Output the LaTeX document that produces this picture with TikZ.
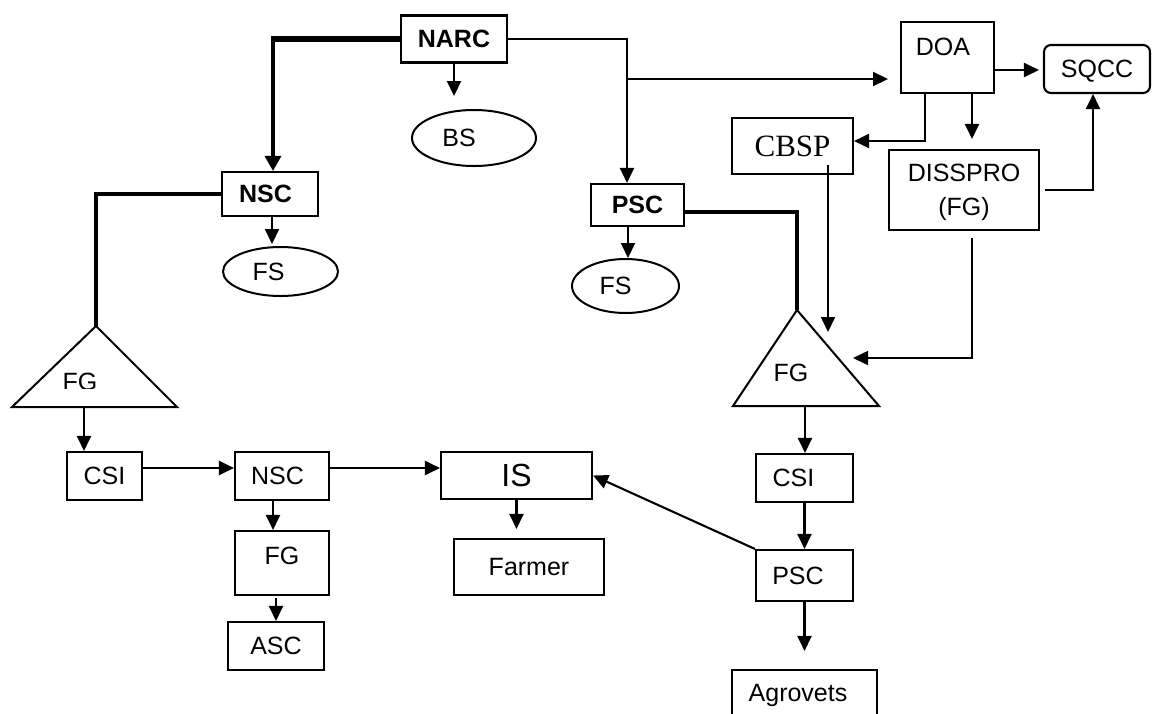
\documentclass[tikz,border=0pt]{standalone}
\usepackage{fontspec}
\setmainfont{Liberation Sans}
\newfontfamily\tnr{Liberation Serif}
\usetikzlibrary{arrows.meta,shapes.geometric}
\newcommand{\fsz}{\fontsize{25}{30}\selectfont}
\newcommand{\gap}[1]{\rule{#1}{0pt}}
\begin{document}
\begin{tikzpicture}[x=1pt,y=-1pt,
  box/.style={draw,line width=2.1pt,inner sep=0pt,font=\fsz,text depth=0pt},
  oval/.style={draw,ellipse,line width=2pt,inner sep=0pt,font=\fsz},
  lbl/.style={inner sep=0pt,font=\fsz,text depth=0pt},
  arr/.style={line width=2.1pt,-{Triangle[length=15pt,width=14pt]}},
  thinarr/.style={line width=1.6pt,-{Triangle[length=15pt,width=14pt]}},
  plain/.style={line width=2pt},
  heavy/.style={line width=4pt}]
\fill[white] (0,0) rectangle (1155,713);
\useasboundingbox (0,0) rectangle (1155,713);

% top nodes
\node[box,minimum width=106pt,minimum height=47pt,font=\fsz\bfseries] (narc) at (454,39) {NARC};
\node[oval,minimum width=124pt,minimum height=56pt] (bs) at (474,138) {BS\gap{30pt}};
\node[box,minimum width=96pt,minimum height=44pt,font=\fsz\bfseries] (nsct) at (270,194) {NSC\gap{9pt}};
\node[oval,minimum width=115pt,minimum height=49pt] (fsl) at (280.5,271.5) {FS\gap{24pt}};
\node[box,minimum width=93pt,minimum height=42pt,font=\fsz\bfseries] (psct) at (637.5,205) {PSC};
\node[oval,minimum width=107pt,minimum height=54pt] (fsr) at (625.5,286) {FS\gap{20pt}};

\node[box,minimum width=93pt,minimum height=71pt] (doa) at (947.5,57.5) {};
\node[lbl] (doatxt) at (943,47) {DOA};
\node[box,rounded corners=7pt,minimum width=106pt,minimum height=48pt] (sqcc) at (1097,69) {SQCC};
\node[box,minimum width=121pt,minimum height=56pt,font=\tnr\fontsize{31}{34}\selectfont] (cbsp) at (792.5,146) {CBSP};
\node[box,minimum width=150pt,minimum height=80pt,align=center,font=\fontsize{25}{34}\selectfont] (dis) at (964,190) {DISSPRO\\(FG)};

% triangles
\coordinate (ltop) at (96,326);
\coordinate (lbl1) at (12,407);
\coordinate (lbr) at (177,407);
\draw[plain,line join=miter] (ltop) -- (lbr) -- (lbl1) -- cycle;
\begin{scope}
\clip (0,0) rectangle (1155,388);
\node[lbl] (lfg) at (80,382) {FG};
\end{scope}
\coordinate (rtop) at (797,310);
\coordinate (rbl) at (733,406);
\coordinate (rbr) at (879,406);
\draw[plain,line join=miter] (rtop) -- (rbr) -- (rbl) -- cycle;
\node[lbl] (rfg) at (791,373) {FG};

% bottom nodes
\node[box,minimum width=75pt,minimum height=48pt] (csil) at (104.5,476) {CSI};
\node[box,minimum width=94pt,minimum height=48pt] (nscb) at (282,476) {NSC\gap{9pt}};
\node[box,minimum width=94pt,minimum height=64pt] (fgb) at (282,563) {};
\node[lbl] (fgbtxt) at (282,556) {FG};
\node[box,minimum width=96pt,minimum height=48pt] (asc) at (276,646) {ASC};
\node[box,minimum width=151pt,minimum height=47pt,font=\fontsize{32}{36}\selectfont] (is) at (516.5,475.5) {IS};
\node[box,minimum width=150pt,minimum height=56pt] (farmer) at (529,567) {Farmer};
\node[box,minimum width=97pt,minimum height=48pt] (csir) at (804.5,478) {CSI\gap{22pt}};
\node[box,minimum width=97pt,minimum height=51pt] (pscr) at (804.5,575.5) {PSC\gap{13pt}};
\node[box,minimum width=145pt,minimum height=46pt] (agro) at (804.5,693) {Agrovets\gap{13pt}};

% NARC connectors
\coordinate (jl) at (273,39);
\coordinate (jr) at (627,39);
\draw[line width=6pt] (narc.west) -- ([xshift=-1.6pt]jl);
\draw[line width=3.2pt,-{Triangle[length=15pt,width=16pt]}] ([yshift=3pt]jl) -- (jl |- nsct.north);
\draw[arr] (narc.east) -- (jr) -- (jr |- psct.north);
\coordinate (b1) at (627,79);
\coordinate (b2) at (888,79);
\draw[arr] (b1) -- (b2);
\draw[arr,shorten >=13pt] (narc.south) -- (narc.south |- bs.north);

% NSC top
\coordinate (nx) at (272,0);
\draw[arr,shorten >=2pt] (nsct.south -| nx) -- (nx |- fsl.north);
\draw[heavy] (nsct.west) -- (nsct.west -| ltop) -- (ltop);

% PSC top
\coordinate (px) at (628,0);
\draw[arr] (psct.south -| px) -- (px |- fsr.north);
\draw[heavy] ([yshift=-7pt]psct.east) -- ([yshift=-7pt]psct.east -| rtop) -- (rtop);

% DOA area
\draw[arr,shorten >=4pt] ([yshift=-12.5pt]doa.east) -- ([yshift=-12.5pt]doa.east -| sqcc.west);
\coordinate (d1) at (925,141);
\draw[arr] (doa.south -| d1) -- (d1) -- (d1 -| cbsp.east);
\coordinate (d2) at (972,0);
\draw[arr,shorten >=10pt] (doa.south -| d2) -- (d2 |- dis.north);
\coordinate (d3) at (1093,190);
\draw[arr] ([xshift=5pt]dis.east) -- (d3) -- (d3 |- sqcc.south);
\coordinate (c1) at (828,165);
\coordinate (c2) at (828,332);
\draw[thinarr] (c1) -- (c2);
\coordinate (e1) at (972,238);
\coordinate (e2) at (972,358);
\coordinate (e3) at (853,358);
\draw[thinarr] (e1) -- (e2) -- (e3);

% left bottom chain
\coordinate (lb) at (84,407);
\draw[arr] (lb) -- (lb |- csil.north);
\draw[arr] ([yshift=8pt]csil.east) -- ([yshift=8pt]csil.east -| nscb.west);
\draw[arr] ([yshift=8pt]nscb.east) -- ([yshift=8pt]nscb.east -| is.west);
\coordinate (nb) at (273,0);
\draw[arr] (nscb.south -| nb) -- (nb |- fgb.north);
\draw[arr] ([yshift=-2pt]fgb.south -| asc.north) -- (asc.north);
\draw[arr,shorten >=9pt] (is.south) -- (is.south |- farmer.north);

% right bottom chain
\coordinate (rb) at (805,406);
\draw[arr] (rb) -- (rb |- csir.north);
\draw[arr] (csir.south) -- (pscr.north);
\draw[arr] (pscr.north west) -- (is.east);
\draw[arr,shorten >=18pt] (pscr.south) -- (pscr.south |- agro.north);
\end{tikzpicture}
\end{document}
